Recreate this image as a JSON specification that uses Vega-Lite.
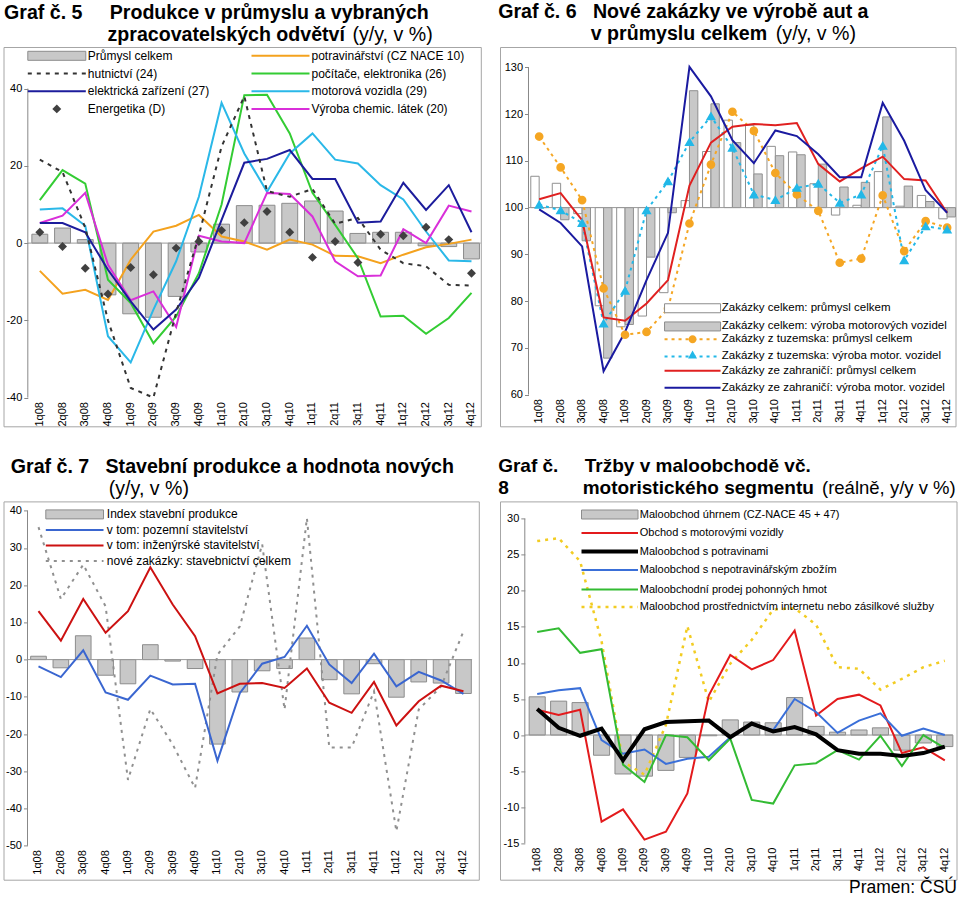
{
"$schema": "https://vega.github.io/schema/vega-lite/v6.json",
"background": "white",
"padding": {"left": 2.5, "top": 1, "right": 0, "bottom": 0},
"datasets": {
"d5": [
{"q":"1q08","prum":2.3,"pot":-7.2,"hut":21.6,"poc":11.1,"ele":5.2,"mot":8.7,"ene":2.8,"chem":5.2},
{"q":"2q08","prum":3.9,"pot":-13.1,"hut":18.4,"poc":18.9,"ele":5.2,"mot":9,"ene":-0.9,"chem":7.1},
{"q":"3q08","prum":0.9,"pot":-12.1,"hut":4,"poc":15.4,"ele":2.8,"mot":4.5,"ene":-6.5,"chem":13},
{"q":"4q08","prum":-13.4,"pot":-14.7,"hut":-20,"poc":-9.5,"ele":-6.9,"mot":-24.1,"ene":-13.2,"chem":-5.6},
{"q":"1q09","prum":-18.3,"pot":-4.3,"hut":-37.5,"poc":-15.5,"ele":-15.1,"mot":-30.9,"ene":-6.3,"chem":-14.8},
{"q":"2q09","prum":-19.2,"pot":3,"hut":-40,"poc":-25.9,"ele":-22.4,"mot":-17.2,"ene":-8.2,"chem":-12.5},
{"q":"3q09","prum":-13.8,"pot":4.5,"hut":-18,"poc":-19,"ele":-17.2,"mot":-4.7,"ene":-1.3,"chem":-21.7},
{"q":"4q09","prum":-2.3,"pot":7.3,"hut":2,"poc":-7.8,"ele":-9,"mot":12,"ene":0.4,"chem":1.9},
{"q":"1q10","prum":4.9,"pot":1.7,"hut":25,"poc":10,"ele":6,"mot":36.3,"ene":3.3,"chem":0.4},
{"q":"2q10","prum":9.7,"pot":0.4,"hut":38,"poc":38.3,"ele":20.8,"mot":23.2,"ene":5.3,"chem":0},
{"q":"3q10","prum":9.8,"pot":-1.7,"hut":13.5,"poc":38.4,"ele":21.8,"mot":13.3,"ene":8.2,"chem":13},
{"q":"4q10","prum":10.3,"pot":0.9,"hut":12,"poc":28.4,"ele":24.1,"mot":23.2,"ene":2.8,"chem":12.7},
{"q":"1q11","prum":10.9,"pot":-0.4,"hut":14,"poc":13,"ele":16.6,"mot":28.4,"ene":-3.7,"chem":6.9},
{"q":"2q11","prum":8.3,"pot":-3.3,"hut":5,"poc":4.7,"ele":16.6,"mot":21.6,"ene":0.4,"chem":-4.7},
{"q":"3q11","prum":2.5,"pot":-3.4,"hut":6.5,"poc":-3.9,"ele":5.3,"mot":20.6,"ene":-5,"chem":-8.6},
{"q":"4q11","prum":2.8,"pot":-5.2,"hut":-1.7,"poc":-19,"ele":5.6,"mot":15,"ene":2.3,"chem":-8.4},
{"q":"1q12","prum":2.8,"pot":-3,"hut":-5.2,"poc":-18.8,"ele":15.6,"mot":11.3,"ene":1.9,"chem":3.6},
{"q":"2q12","prum":-0.7,"pot":-1.1,"hut":-6,"poc":-23.5,"ele":8.6,"mot":3,"ene":4.1,"chem":0},
{"q":"3q12","prum":-0.9,"pot":-0.2,"hut":-10.8,"poc":-19.4,"ele":15,"mot":-4.5,"ene":0.9,"chem":9.7},
{"q":"4q12","prum":-4.1,"pot":0.9,"hut":-11,"poc":-12.9,"ele":2.8,"mot":-4.7,"ene":-7.8,"chem":8.2}
],
"d6": [
{"q":"1q08","wtot":106.7,"gtot":100,"dom_p":115.2,"dom_m":100.6,"for_p":101.8,"for_m":99.6},
{"q":"2q08","wtot":105.2,"gtot":97.4,"dom_p":108.6,"dom_m":99.4,"for_p":103.1,"for_m":96.7},
{"q":"3q08","wtot":98.7,"gtot":92.9,"dom_p":101.6,"dom_m":96.7,"for_p":97.3,"for_m":91.7},
{"q":"4q08","wtot":79,"gtot":67.8,"dom_p":82.7,"dom_m":75.2,"for_p":76.5,"for_m":65},
{"q":"1q09","wtot":74.5,"gtot":75,"dom_p":72.8,"dom_m":82.2,"for_p":75.8,"for_m":73.4},
{"q":"2q09","wtot":76.8,"gtot":89.4,"dom_p":73.4,"dom_m":99.4,"for_p":79.5,"for_m":84.5},
{"q":"3q09","wtot":81.8,"gtot":98.9,"dom_p":78.4,"dom_m":105.6,"for_p":84.5,"for_m":94.6},
{"q":"4q09","wtot":101.5,"gtot":125,"dom_p":96.6,"dom_m":114,"for_p":104.7,"for_m":130.1},
{"q":"1q10","wtot":112,"gtot":122.2,"dom_p":109.2,"dom_m":119.5,"for_p":113.9,"for_m":123.8},
{"q":"2q10","wtot":118.7,"gtot":113.9,"dom_p":120.5,"dom_m":112.8,"for_p":117.3,"for_m":114.4},
{"q":"3q10","wtot":117.6,"gtot":107.2,"dom_p":116.4,"dom_m":102.8,"for_p":117.9,"for_m":109.5},
{"q":"4q10","wtot":113.1,"gtot":111.1,"dom_p":107.4,"dom_m":101.6,"for_p":117.6,"for_m":116.5},
{"q":"1q11","wtot":111.9,"gtot":111.3,"dom_p":102.8,"dom_m":104.2,"for_p":118.1,"for_m":115.3},
{"q":"2q11","wtot":105.1,"gtot":109.3,"dom_p":99.3,"dom_m":105.1,"for_p":109.3,"for_m":111.4},
{"q":"3q11","wtot":98.4,"gtot":104.4,"dom_p":88.2,"dom_m":101,"for_p":105.6,"for_m":106.5},
{"q":"4q11","wtot":100.5,"gtot":105.4,"dom_p":89.1,"dom_m":102.8,"for_p":108.4,"for_m":106.5},
{"q":"1q12","wtot":107.7,"gtot":119.4,"dom_p":102.6,"dom_m":113.2,"for_p":110.9,"for_m":122.4},
{"q":"2q12","wtot":100.3,"gtot":104.6,"dom_p":90.7,"dom_m":88.7,"for_p":106.1,"for_m":114.3},
{"q":"3q12","wtot":102.6,"gtot":101.3,"dom_p":97.1,"dom_m":96,"for_p":105.8,"for_m":103.7},
{"q":"4q12","wtot":97.6,"gtot":98,"dom_p":95.7,"dom_m":95.3,"for_p":98.9,"for_m":98.9}
],
"d7": [
{"q":"1q08","idx":0.9,"poz":-1.8,"inz":13,"nz":35.6},
{"q":"2q08","idx":-2.2,"poz":-4.7,"inz":5.1,"nz":16.3},
{"q":"3q08","idx":6.4,"poz":2.5,"inz":16.3,"nz":25.5},
{"q":"4q08","idx":-4.2,"poz":-8.8,"inz":7.2,"nz":14.3},
{"q":"1q09","idx":-6.5,"poz":-10.8,"inz":13,"nz":-32.3},
{"q":"2q09","idx":4,"poz":-4.3,"inz":24.8,"nz":-13.3},
{"q":"3q09","idx":-0.4,"poz":-6.7,"inz":14.8,"nz":-22.8},
{"q":"4q09","idx":-2.4,"poz":-6.5,"inz":6.3,"nz":-34.5},
{"q":"1q10","idx":-22.7,"poz":-27.2,"inz":-9.1,"nz":1.3},
{"q":"2q10","idx":-8.7,"poz":-9,"inz":-6.5,"nz":8.9},
{"q":"3q10","idx":-3,"poz":-1.1,"inz":-6.3,"nz":31},
{"q":"4q10","idx":-2.4,"poz":0.7,"inz":-7.6,"nz":-13.4},
{"q":"1q11","idx":5.8,"poz":9.1,"inz":-2.4,"nz":38},
{"q":"2q11","idx":-5.4,"poz":-1.3,"inz":-11.6,"nz":-23.6},
{"q":"3q11","idx":-9.2,"poz":-6.3,"inz":-14.3,"nz":-23.6},
{"q":"4q11","idx":-1.1,"poz":1.6,"inz":-6,"nz":-8.5},
{"q":"1q12","idx":-10.1,"poz":-7.2,"inz":-17.7,"nz":-46.1},
{"q":"2q12","idx":-6,"poz":-3.3,"inz":-11.2,"nz":-13.4},
{"q":"3q12","idx":-6.3,"poz":-5.6,"inz":-7,"nz":-7.2},
{"q":"4q12","idx":-9.1,"poz":-9.2,"inz":-8.5,"nz":7.6}
],
"d8": [
{"q":"1q08","uhr":5.3,"mot":3.5,"pot":3.6,"nepot":5.7,"pohon":14.3,"int":26.9},
{"q":"2q08","uhr":4.7,"mot":2.8,"pot":1,"nepot":6.2,"pohon":14.8,"int":27.3},
{"q":"3q08","uhr":4.5,"mot":3.5,"pot":-0.1,"nepot":6.5,"pohon":11.4,"int":24.1},
{"q":"4q08","uhr":-2.8,"mot":-12,"pot":0.9,"nepot":-0.7,"pohon":11.9,"int":13},
{"q":"1q09","uhr":-5.4,"mot":-10.3,"pot":-3.5,"nepot":-2.6,"pohon":-4.1,"int":-3.7},
{"q":"2q09","uhr":-5.7,"mot":-14.5,"pot":0.8,"nepot":-2,"pohon":-6.5,"int":-5.5},
{"q":"3q09","uhr":-4.9,"mot":-13.4,"pot":1.8,"nepot":-4,"pohon":0,"int":1.4},
{"q":"4q09","uhr":-3.1,"mot":-8.1,"pot":1.9,"nepot":-3.3,"pohon":-0.3,"int":15.1},
{"q":"1q10","uhr":-0.1,"mot":5.5,"pot":2,"nepot":-3,"pohon":-3.5,"int":4.6},
{"q":"2q10","uhr":2.1,"mot":11.1,"pot":-0.3,"nepot":-0.3,"pohon":-0.5,"int":9.9},
{"q":"3q10","uhr":1.8,"mot":9.1,"pot":1.6,"nepot":1.5,"pohon":-9,"int":13.2},
{"q":"4q10","uhr":1.7,"mot":10.4,"pot":0.5,"nepot":0.7,"pohon":-9.5,"int":17.4},
{"q":"1q11","uhr":5.2,"mot":14.5,"pot":1.1,"nepot":5,"pohon":-4.2,"int":17.6},
{"q":"2q11","uhr":1.2,"mot":2.7,"pot":0.1,"nepot":3.2,"pohon":-3.9,"int":15.3},
{"q":"3q11","uhr":0.4,"mot":5,"pot":-2.1,"nepot":0.3,"pohon":-2.1,"int":9.4},
{"q":"4q11","uhr":0.7,"mot":5.6,"pot":-2.6,"nepot":2,"pohon":-3.4,"int":9.2},
{"q":"1q12","uhr":1,"mot":4.1,"pot":-2.6,"nepot":3,"pohon":-0.1,"int":6.3},
{"q":"2q12","uhr":-2.1,"mot":-2.5,"pot":-2.9,"nepot":-0.1,"pohon":-4.3,"int":7.8},
{"q":"3q12","uhr":-1.1,"mot":-1.7,"pot":-2.5,"nepot":0.9,"pohon":0,"int":9.4},
{"q":"4q12","uhr":-1.6,"mot":-3.5,"pot":-1.6,"nepot":0,"pohon":-1.8,"int":10.3}
]
},
"columns": 2,
"spacing": {"row": 74.4, "column": 18.5},
"bounds": "flush",
"resolve": {
 "scale": {"color": "independent", "fill": "independent", "stroke": "independent", "strokeDash": "independent", "shape": "independent", "opacity": "independent", "strokeWidth": "independent"},
 "legend": {"color": "independent", "fill": "independent", "stroke": "independent", "strokeDash": "independent", "shape": "independent", "opacity": "independent", "strokeWidth": "independent"}
},
"concat": [
{
"width": 477.3, "height": 379.3,
"title": {"text": ["Graf č. 5\u00a0\u00a0\u00a0\u00a0\u00a0Produkce v průmyslu a vybraných", "\u200b\u00a0\u00a0\u00a0\u00a0\u00a0\u00a0\u00a0\u00a0\u00a0\u00a0\u00a0\u00a0\u00a0\u00a0\u00a0\u00a0\u00a0\u00a0\u00a0zpracovatelských odvětví"], "subtitle": "\u200b\u00a0\u00a0\u00a0\u00a0\u00a0\u00a0\u00a0\u00a0\u00a0\u00a0\u00a0\u00a0\u00a0\u00a0\u00a0\u00a0\u00a0\u00a0\u00a0\u00a0\u00a0\u00a0\u00a0\u00a0\u00a0\u00a0\u00a0\u00a0\u00a0\u00a0\u00a0\u00a0\u00a0\u00a0\u00a0\u00a0\u00a0\u00a0\u00a0\u00a0\u00a0\u00a0\u00a0\u00a0\u00a0\u00a0\u00a0\u00a0\u00a0\u00a0\u00a0\u00a0\u00a0\u00a0\u00a0\u00a0\u00a0\u00a0\u00a0\u00a0\u00a0\u00a0\u00a0\u00a0(y/y, v %)", "anchor": "start", "frame": "group", "dx": 0.6, "offset": 1.7, "fontSize": 19.6, "fontWeight": "bold", "color": "#000", "lineHeight": 22, "subtitleFontSize": 19.6, "subtitleFontWeight": "normal", "subtitleColor": "#000", "subtitlePadding": -19.6},
"data": {"name": "d5"},
"layer": [
{"transform": [{"fold": ["prum"], "as": ["s", "v"]}],
 "mark": {"type": "bar", "stroke": "#8c8c8c", "strokeWidth": 1},
 "encoding": {
  "x": {"field": "q", "type": "ordinal", "scale": {"domain": ["1q08","2q08","3q08","4q08","1q09","2q09","3q09","4q09","1q10","2q10","3q10","4q10","1q11","2q11","3q11","4q11","1q12","2q12","3q12","4q12"], "paddingInner": 0.3, "paddingOuter": 0.654, "align": 0.9545}, "axis": {"title": null, "labelAngle": -90, "domain": false, "ticks": false, "labelPadding": 4, "offset": -28.7}},
  "y": {"field": "v", "type": "quantitative", "scale": {"domain": [-47.43, 50.77], "nice": false, "zero": false}, "axis": {"title": null, "values": [-40, -20, 0, 20, 40], "domain": false, "tickSize": 4, "tickColor": "#888", "labelPadding": 2, "offset": -24.3, "labelExpr": "'' + datum.value"}},
  "y2": {"datum": 0},
  "fill": {"field": "s", "type": "nominal", "scale": {"domain": ["prum"], "range": ["#c8c8c8"]},
   "legend": {"orient": "none", "legendX": 24.3, "legendY": 2.8, "title": null, "padding": 0, "columns": 1, "symbolType": "M-6,-4.5H52V4.5H-6Z", "symbolSize": 4, "symbolStrokeColor": "#8c8c8c", "symbolStrokeWidth": 1, "labelOffset": 48, "labelFontSize": 12, "labelLimit": 400, "labelColor": "#000", "labelExpr": "'Průmysl celkem'"}}
 }},
{"data": {"values": [{}]}, "mark": {"type": "rule", "color": "#999", "strokeWidth": 1}, "encoding": {"x": {"datum": "4q12", "type": "ordinal", "bandPosition": 1.08}, "x2": {"datum": "1q08"}, "y": {"datum": 0}}},
{"data": {"values": [{}]}, "mark": {"type": "rule", "color": "#999", "strokeWidth": 1}, "encoding": {"x": {"datum": "1q08", "type": "ordinal", "bandPosition": -0.2547}, "x2": {"datum": "1q08"}, "y": {"datum": 0}}},
{"data": {"values": [{}]}, "mark": {"type": "rule", "color": "#888", "strokeWidth": 1}, "encoding": {"x": {"datum": "1q08", "type": "ordinal", "bandPosition": -0.2547}, "y": {"datum": -40}, "y2": {"datum": 40}}},
{"transform": [{"fold": ["pot","poc","mot","chem"], "as": ["s", "v"]}],
 "mark": {"type": "line", "strokeWidth": 2},
 "encoding": {"x": {"field": "q", "type": "ordinal"}, "y": {"field": "v", "type": "quantitative"},
  "color": {"field": "s", "type": "nominal", "scale": {"domain": ["pot","poc","mot","chem"], "range": ["#f4a21e","#33cc33","#2ab8e8","#d92fd9"]},
   "legend": {"orient": "none", "legendX": 248, "legendY": 2.8, "title": null, "padding": 0, "columns": 1, "rowPadding": 5.7, "symbolType": "M-6,0H52", "symbolSize": 4, "symbolStrokeWidth": 2, "labelOffset": 48, "labelFontSize": 12, "labelLimit": 400, "labelColor": "#000",
    "labelExpr": "({pot:'potravinářství (CZ NACE 10)',poc:'počítače, elektronika (26)',mot:'motorová vozidla (29)',chem:'Výroba chemic. látek (20)'})[datum.value]"}}}},
{"transform": [{"fold": ["ele"], "as": ["s", "v"]}],
 "mark": {"type": "line", "strokeWidth": 2},
 "encoding": {"x": {"field": "q", "type": "ordinal"}, "y": {"field": "v", "type": "quantitative"},
  "stroke": {"field": "s", "type": "nominal", "scale": {"domain": ["ele"], "range": ["#1c1c9c"]},
   "legend": {"orient": "none", "legendX": 24.3, "legendY": 38.2, "title": null, "padding": 0, "columns": 1, "symbolType": "M-6,0H52", "symbolSize": 4, "symbolStrokeWidth": 2, "labelOffset": 48, "labelFontSize": 12, "labelLimit": 400, "labelColor": "#000", "labelExpr": "'elektrická zařízení (27)'"}}}},
{"transform": [{"fold": ["hut"], "as": ["s", "v"]}],
 "mark": {"type": "line", "strokeWidth": 2, "color": "#333333"},
 "encoding": {"x": {"field": "q", "type": "ordinal"}, "y": {"field": "v", "type": "quantitative"},
  "strokeDash": {"field": "s", "type": "nominal", "scale": {"domain": ["hut"], "range": [[4, 5]]},
   "legend": {"orient": "none", "legendX": 24.3, "legendY": 20.5, "title": null, "padding": 0, "columns": 1, "symbolType": "M-6,0H52", "symbolSize": 4, "symbolStrokeWidth": 2, "symbolStrokeColor": "#333333", "labelOffset": 48, "labelFontSize": 12, "labelLimit": 400, "labelColor": "#000", "labelExpr": "'hutnictví (24)'"}}}},
{"transform": [{"fold": ["ene"], "as": ["s", "v"]}],
 "mark": {"type": "point", "filled": true, "color": "#404040", "size": 80, "opacity": 1},
 "encoding": {"x": {"field": "q", "type": "ordinal"}, "y": {"field": "v", "type": "quantitative"},
  "shape": {"field": "s", "type": "nominal", "scale": {"domain": ["ene"], "range": ["diamond"]},
   "legend": {"orient": "none", "legendX": 24.3, "legendY": 55.9, "title": null, "padding": 0, "columns": 1, "symbolSize": 80, "symbolOffset": 23, "symbolFillColor": "#404040", "labelOffset": 25, "labelFontSize": 12, "labelLimit": 400, "labelColor": "#000", "labelExpr": "'Energetika (D)'"}}}}
]
},
{
"width": 455.5, "height": 379.3,
"title": {"text": ["Graf č. 6\u00a0\u00a0\u00a0Nové zakázky ve výrobě aut a", "\u200b\u00a0\u00a0\u00a0\u00a0\u00a0\u00a0\u00a0\u00a0\u00a0\u00a0\u00a0\u00a0\u00a0\u00a0\u00a0\u00a0\u00a0v průmyslu celkem"], "subtitle": "\u200b\u00a0\u00a0\u00a0\u00a0\u00a0\u00a0\u00a0\u00a0\u00a0\u00a0\u00a0\u00a0\u00a0\u00a0\u00a0\u00a0\u00a0\u00a0\u00a0\u00a0\u00a0\u00a0\u00a0\u00a0\u00a0\u00a0\u00a0\u00a0\u00a0\u00a0\u00a0\u00a0\u00a0\u00a0\u00a0\u00a0\u00a0\u00a0\u00a0\u00a0\u00a0\u00a0\u00a0\u00a0\u00a0\u00a0\u00a0\u00a0\u00a0\u00a0\u00a0(y/y, v %)", "anchor": "start", "frame": "group", "dx": -1.8, "offset": 2, "fontSize": 19.6, "fontWeight": "bold", "color": "#000", "lineHeight": 22, "subtitleFontSize": 19.6, "subtitleFontWeight": "normal", "subtitleColor": "#000", "subtitlePadding": -19.6},
"data": {"name": "d6"},
"layer": [
{"transform": [{"fold": ["wtot","gtot"], "as": ["s", "v"]}],
 "mark": {"type": "bar", "stroke": "#909090", "strokeWidth": 1},
 "encoding": {
  "x": {"field": "q", "type": "ordinal", "scale": {"domain": ["1q08","2q08","3q08","4q08","1q09","2q09","3q09","4q09","1q10","2q10","3q10","4q10","1q11","2q11","3q11","4q11","1q12","2q12","3q12","4q12"], "paddingInner": 0.22, "paddingOuter": 0.717, "align": 1}, "axis": {"title": null, "labelAngle": -90, "domain": false, "ticks": false, "labelPadding": 4, "offset": -31.7}},
  "xOffset": {"field": "s", "type": "nominal", "scale": {"domain": ["wtot","gtot"], "paddingInner": 0, "paddingOuter": 0}},
  "y": {"field": "v", "type": "quantitative", "scale": {"domain": [53.22, 134.35], "nice": false, "zero": false}, "axis": {"title": null, "values": [60,70,80,90,100,110,120,130], "domain": false, "tickSize": 4, "tickColor": "#888", "labelPadding": 2, "offset": -28.5}},
  "y2": {"datum": 100},
  "fill": {"field": "s", "type": "nominal", "scale": {"domain": ["wtot","gtot"], "range": ["#ffffff","#c8c8c8"]},
   "legend": {"orient": "none", "legendX": 164.8, "legendY": 255.5, "title": null, "padding": 0, "columns": 1, "rowPadding": 4.2, "symbolType": "M-6,-4.5H50V4.5H-6Z", "symbolSize": 4, "symbolStrokeColor": "#8c8c8c", "symbolStrokeWidth": 1, "labelOffset": 45.5, "labelFontSize": 11.5, "labelLimit": 400, "labelColor": "#000",
    "labelExpr": "({wtot:'Zakázky celkem: průmysl celkem',gtot:'Zakázky celkem: výroba motorových vozidel'})[datum.value]"}}
 }},
{"data": {"values": [{}]}, "mark": {"type": "rule", "color": "#999", "strokeWidth": 1}, "encoding": {"x": {"datum": "4q12", "type": "ordinal", "bandPosition": 1}, "x2": {"datum": "1q08"}, "y": {"datum": 100}}},
{"data": {"values": [{}]}, "mark": {"type": "rule", "color": "#999", "strokeWidth": 1}, "encoding": {"x": {"datum": "1q08", "type": "ordinal", "bandPosition": -0.137}, "x2": {"datum": "1q08"}, "y": {"datum": 100}}},
{"data": {"values": [{}]}, "mark": {"type": "rule", "color": "#888", "strokeWidth": 1}, "encoding": {"x": {"datum": "1q08", "type": "ordinal", "bandPosition": -0.137}, "y": {"datum": 60}, "y2": {"datum": 130}}},
{"transform": [{"fold": ["dom_p","dom_m"], "as": ["s", "v"]}],
 "mark": {"type": "line", "strokeWidth": 2, "strokeDash": [3, 4]},
 "encoding": {"x": {"field": "q", "type": "ordinal"}, "y": {"field": "v", "type": "quantitative"},
  "stroke": {"field": "s", "type": "nominal", "scale": {"domain": ["dom_p","dom_m"], "range": ["#f5a623","#22b8e8"]},
   "legend": {"orient": "none", "legendX": 164.8, "legendY": 286.5, "title": null, "padding": 0, "columns": 1, "rowPadding": 4.2, "symbolType": "M-6,0H50", "symbolSize": 4, "symbolStrokeWidth": 2, "symbolDash": [3, 4], "labelOffset": 45.5, "labelFontSize": 11.5, "labelLimit": 400, "labelColor": "#000",
    "labelExpr": "({dom_p:'Zakázky z tuzemska: průmysl celkem',dom_m:'Zakázky z tuzemska: výroba motor. vozidel'})[datum.value]"}}}},
{"transform": [{"fold": ["for_p","for_m"], "as": ["s", "v"]}],
 "mark": {"type": "line", "strokeWidth": 2},
 "encoding": {"x": {"field": "q", "type": "ordinal"}, "y": {"field": "v", "type": "quantitative"},
  "color": {"field": "s", "type": "nominal", "scale": {"domain": ["for_p","for_m"], "range": ["#e02020","#1a1aa0"]},
   "legend": {"orient": "none", "legendX": 164.8, "legendY": 317.9, "title": null, "padding": 0, "columns": 1, "rowPadding": 4.2, "symbolType": "M-6,0H50", "symbolSize": 4, "symbolStrokeWidth": 2, "labelOffset": 45.5, "labelFontSize": 11.5, "labelLimit": 400, "labelColor": "#000",
    "labelExpr": "({for_p:'Zakázky ze zahraničí: průmysl celkem',for_m:'Zakázky ze zahraničí: výroba motor. vozidel'})[datum.value]"}}}},
{"transform": [{"fold": ["dom_p"], "as": ["s", "v"]}],
 "mark": {"type": "point", "shape": "circle", "filled": true, "color": "#f5a623", "stroke": "#f5a623", "strokeWidth": 2, "size": 45},
 "encoding": {"x": {"field": "q", "type": "ordinal"}, "y": {"field": "v", "type": "quantitative"},
  "opacity": {"field": "s", "type": "ordinal", "scale": {"domain": ["dom_p"], "range": [1, 1]},
   "legend": {"orient": "none", "legendX": 164.8, "legendY": 286.5, "title": null, "padding": 0, "columns": 1, "symbolType": "M26,0A4,4,0,1,1,18,0A4,4,0,1,1,26,0", "symbolSize": 4, "symbolStrokeWidth": 1, "symbolStrokeColor": "#f5a623", "symbolFillColor": "#f5a623", "labelOffset": 45.5, "labelFontSize": 11.5, "labelLimit": 400, "labelColor": "#000", "labelExpr": "''"}}}},
{"transform": [{"fold": ["dom_m"], "as": ["s", "v"]}],
 "mark": {"type": "point", "shape": "triangle-up", "filled": true, "color": "#22b8e8", "stroke": "#22b8e8", "size": 45, "opacity": 1},
 "encoding": {"x": {"field": "q", "type": "ordinal"}, "y": {"field": "v", "type": "quantitative"},
  "strokeWidth": {"field": "s", "type": "ordinal", "scale": {"domain": ["dom_m"], "range": [2, 2]},
   "legend": {"orient": "none", "legendX": 164.8, "legendY": 302.2, "title": null, "padding": 0, "columns": 1, "symbolType": "M22,-4.5L26.5,3.5L17.5,3.5Z", "symbolSize": 4, "symbolStrokeColor": "#22b8e8", "symbolFillColor": "#22b8e8", "labelOffset": 45.5, "labelFontSize": 11.5, "labelLimit": 400, "labelColor": "#000", "labelExpr": "''"}}}}
]
},
{
"width": 475.3, "height": 378.3,
"title": {"text": "Graf č. 7\u00a0\u00a0\u00a0Stavební produkce a hodnota nových", "subtitle": "\u200b\u00a0\u00a0\u00a0\u00a0\u00a0\u00a0\u00a0\u00a0\u00a0\u00a0\u00a0\u00a0\u00a0\u00a0\u00a0\u00a0\u00a0\u00a0(y/y, v %)", "anchor": "start", "frame": "group", "dx": 7.3, "offset": 2, "fontSize": 19.6, "fontWeight": "bold", "color": "#000", "lineHeight": 22, "subtitleFontSize": 19.6, "subtitleFontWeight": "normal", "subtitleColor": "#000", "subtitlePadding": 2},
"data": {"name": "d7"},
"layer": [
{"transform": [{"fold": ["idx"], "as": ["s", "v"]}],
 "mark": {"type": "bar", "stroke": "#8c8c8c", "strokeWidth": 1},
 "encoding": {
  "x": {"field": "q", "type": "ordinal", "scale": {"domain": ["1q08","2q08","3q08","4q08","1q09","2q09","3q09","4q09","1q10","2q10","3q10","4q10","1q11","2q11","3q11","4q11","1q12","2q12","3q12","4q12"], "paddingInner": 0.3, "paddingOuter": 0.775, "align": 0.7837}, "axis": {"title": null, "labelAngle": -90, "domain": false, "ticks": false, "labelPadding": 4, "offset": -34}},
  "y": {"field": "v", "type": "quantitative", "scale": {"domain": [-59.13, 42.5], "nice": false, "zero": false}, "axis": {"title": null, "values": [-50,-40,-30,-20,-10,0,10,20,30,40], "domain": false, "tickSize": 4, "tickColor": "#888", "labelPadding": 2, "offset": -24, "labelExpr": "'' + datum.value"}},
  "y2": {"datum": 0},
  "fill": {"field": "s", "type": "nominal", "scale": {"domain": ["idx"], "range": ["#c8c8c8"]},
   "legend": {"orient": "none", "legendX": 42.3, "legendY": 7, "title": null, "padding": 0, "columns": 1, "symbolType": "M-6,-4.5H51.7V4.5H-6Z", "symbolSize": 4, "symbolStrokeColor": "#8c8c8c", "symbolStrokeWidth": 1, "labelOffset": 49, "labelFontSize": 12, "labelLimit": 400, "labelColor": "#000", "labelExpr": "'Index stavební produkce'"}}
 }},
{"data": {"values": [{}]}, "mark": {"type": "rule", "color": "#999", "strokeWidth": 1}, "encoding": {"x": {"datum": "4q12", "type": "ordinal", "bandPosition": 1.05}, "x2": {"datum": "1q08"}, "y": {"datum": 0}}},
{"data": {"values": [{}]}, "mark": {"type": "rule", "color": "#999", "strokeWidth": 1}, "encoding": {"x": {"datum": "1q08", "type": "ordinal", "bandPosition": -0.2024}, "x2": {"datum": "1q08"}, "y": {"datum": 0}}},
{"data": {"values": [{}]}, "mark": {"type": "rule", "color": "#888", "strokeWidth": 1}, "encoding": {"x": {"datum": "1q08", "type": "ordinal", "bandPosition": -0.2024}, "y": {"datum": -50}, "y2": {"datum": 40}}},
{"transform": [{"fold": ["nz"], "as": ["s", "v"]}],
 "mark": {"type": "line", "strokeWidth": 2, "color": "#909090"},
 "encoding": {"x": {"field": "q", "type": "ordinal"}, "y": {"field": "v", "type": "quantitative"},
  "strokeDash": {"field": "s", "type": "nominal", "scale": {"domain": ["nz"], "range": [[3, 5]]},
   "legend": {"orient": "none", "legendX": 42.3, "legendY": 53.5, "title": null, "padding": 0, "columns": 1, "symbolType": "M-6,0H51.7", "symbolSize": 4, "symbolStrokeWidth": 2, "symbolStrokeColor": "#909090", "labelOffset": 49, "labelFontSize": 12, "labelLimit": 400, "labelColor": "#000", "labelExpr": "'nové zakázky: stavebnictví celkem'"}}}},
{"transform": [{"fold": ["poz","inz"], "as": ["s", "v"]}],
 "mark": {"type": "line", "strokeWidth": 2},
 "encoding": {"x": {"field": "q", "type": "ordinal"}, "y": {"field": "v", "type": "quantitative"},
  "color": {"field": "s", "type": "nominal", "scale": {"domain": ["poz","inz"], "range": ["#3a66d0","#cc1111"]},
   "legend": {"orient": "none", "legendX": 42.3, "legendY": 22.5, "title": null, "padding": 0, "columns": 1, "rowPadding": 3.5, "symbolType": "M-6,0H51.7", "symbolSize": 4, "symbolStrokeWidth": 2, "labelOffset": 49, "labelFontSize": 12, "labelLimit": 400, "labelColor": "#000",
    "labelExpr": "({poz:'v tom: pozemní stavitelství',inz:'v tom: inženýrské stavitelství'})[datum.value]"}}}}
]
},
{
"width": 456.5, "height": 378.3,
"title": {"text": ["Graf č.\u00a0\u00a0\u00a0\u00a0\u00a0Tržby v maloobchodě vč.", "8\u00a0\u00a0\u00a0\u00a0\u00a0\u00a0\u00a0\u00a0\u00a0\u00a0\u00a0\u00a0\u00a0\u00a0motoristického segmentu"], "subtitle": "\u200b\u00a0\u00a0\u00a0\u00a0\u00a0\u00a0\u00a0\u00a0\u00a0\u00a0\u00a0\u00a0\u00a0\u00a0\u00a0\u00a0\u00a0\u00a0\u00a0\u00a0\u00a0\u00a0\u00a0\u00a0\u00a0\u00a0\u00a0\u00a0\u00a0\u00a0\u00a0\u00a0\u00a0\u00a0\u00a0\u00a0\u00a0\u00a0\u00a0\u00a0\u00a0\u00a0\u00a0\u00a0\u00a0\u00a0\u00a0\u00a0\u00a0\u00a0\u00a0\u00a0\u00a0\u00a0\u00a0\u00a0\u00a0\u00a0\u00a0\u00a0\u00a0\u00a0\u00a0(reálně, y/y v %)", "anchor": "start", "frame": "group", "dx": -1.8, "offset": 3.5, "fontSize": 19, "fontWeight": "bold", "color": "#000", "lineHeight": 22, "subtitleFontSize": 18.5, "subtitleFontWeight": "normal", "subtitleColor": "#000", "subtitlePadding": -19},
"data": {"name": "d8"},
"layer": [
{"transform": [{"fold": ["uhr"], "as": ["s", "v"]}],
 "mark": {"type": "bar", "stroke": "#8c8c8c", "strokeWidth": 1},
 "encoding": {
  "x": {"field": "q", "type": "ordinal", "scale": {"domain": ["1q08","2q08","3q08","4q08","1q09","2q09","3q09","4q09","1q10","2q10","3q10","4q10","1q11","2q11","3q11","4q11","1q12","2q12","3q12","4q12"], "paddingInner": 0.25, "paddingOuter": 0.7646, "align": 0.8887}, "axis": {"title": "Pramen: ČSÚ", "titleAnchor": "end", "titleAlign": "right", "titleFontSize": 17.5, "titleFontWeight": "normal", "titleColor": "#000", "titlePadding": 7, "titleFont": "Liberation Sans", "labelAngle": -90, "domain": false, "ticks": false, "labelPadding": 4, "offset": -36.5}},
  "y": {"field": "v", "type": "quantitative", "scale": {"domain": [-20.06, 32.4], "nice": false, "zero": false}, "axis": {"title": null, "values": [-15,-10,-5,0,5,10,15,20,25,30], "domain": false, "tickSize": 4, "tickColor": "#888", "labelPadding": 2, "offset": -24.8, "labelExpr": "'' + datum.value"}},
  "y2": {"datum": 0},
  "fill": {"field": "s", "type": "nominal", "scale": {"domain": ["uhr"], "range": ["#c8c8c8"]},
   "legend": {"orient": "none", "legendX": 81.5, "legendY": 7.6, "title": null, "padding": 0, "columns": 1, "symbolType": "M-5.5,-4.5H51V4.5H-5.5Z", "symbolSize": 4, "symbolStrokeColor": "#8c8c8c", "symbolStrokeWidth": 1, "labelOffset": 47.3, "labelFontSize": 11, "labelLimit": 400, "labelColor": "#000", "labelExpr": "'Maloobchod úhrnem (CZ-NACE 45 + 47)'"}}
 }},
{"data": {"values": [{}]}, "mark": {"type": "rule", "color": "#999", "strokeWidth": 1}, "encoding": {"x": {"datum": "4q12", "type": "ordinal", "bandPosition": 1}, "x2": {"datum": "1q08"}, "y": {"datum": 0}}},
{"data": {"values": [{}]}, "mark": {"type": "rule", "color": "#999", "strokeWidth": 1}, "encoding": {"x": {"datum": "1q08", "type": "ordinal", "bandPosition": -0.27}, "x2": {"datum": "1q08"}, "y": {"datum": 0}}},
{"data": {"values": [{}]}, "mark": {"type": "rule", "color": "#888", "strokeWidth": 1}, "encoding": {"x": {"datum": "1q08", "type": "ordinal", "bandPosition": -0.27}, "y": {"datum": -15}, "y2": {"datum": 30}}},
{"transform": [{"fold": ["int"], "as": ["s", "v"]}],
 "mark": {"type": "line", "strokeWidth": 2.5, "color": "#f2cc22"},
 "encoding": {"x": {"field": "q", "type": "ordinal"}, "y": {"field": "v", "type": "quantitative"},
  "strokeDash": {"field": "s", "type": "nominal", "scale": {"domain": ["int"], "range": [[3, 5]]},
   "legend": {"orient": "none", "legendX": 81.5, "legendY": 100.1, "title": null, "padding": 0, "columns": 1, "symbolType": "M-5.5,0H51", "symbolSize": 4, "symbolStrokeWidth": 2.5, "symbolStrokeColor": "#f2cc22", "labelOffset": 47.3, "labelFontSize": 11, "labelLimit": 400, "labelColor": "#000", "labelExpr": "'Maloobchod prostřednictvím internetu nebo zásilkové služby'"}}}},
{"transform": [{"fold": ["mot"], "as": ["s", "v"]}],
 "mark": {"type": "line", "strokeWidth": 2},
 "encoding": {"x": {"field": "q", "type": "ordinal"}, "y": {"field": "v", "type": "quantitative"},
  "color": {"field": "s", "type": "nominal", "scale": {"domain": ["mot"], "range": ["#e31a1c"]},
   "legend": {"orient": "none", "legendX": 81.5, "legendY": 26.1, "title": null, "padding": 0, "columns": 1, "symbolType": "M-5.5,0H51", "symbolSize": 4, "symbolStrokeWidth": 2, "labelOffset": 47.3, "labelFontSize": 11, "labelLimit": 400, "labelColor": "#000", "labelExpr": "'Obchod s motorovými vozidly'"}}}},
{"transform": [{"fold": ["nepot","pohon"], "as": ["s", "v"]}],
 "mark": {"type": "line", "strokeWidth": 2},
 "encoding": {"x": {"field": "q", "type": "ordinal"}, "y": {"field": "v", "type": "quantitative"},
  "stroke": {"field": "s", "type": "nominal", "scale": {"domain": ["nepot","pohon"], "range": ["#3a6fd8","#33bb33"]},
   "legend": {"orient": "none", "legendX": 81.5, "legendY": 63.1, "title": null, "padding": 0, "columns": 1, "rowPadding": 7.5, "symbolType": "M-5.5,0H51", "symbolSize": 4, "symbolStrokeWidth": 2, "labelOffset": 47.3, "labelFontSize": 11, "labelLimit": 400, "labelColor": "#000",
    "labelExpr": "({nepot:'Maloobchod s nepotravinářským zbožím',pohon:'Maloobchodní prodej pohonných hmot'})[datum.value]"}}}},
{"transform": [{"fold": ["pot"], "as": ["s", "v"]}],
 "mark": {"type": "line", "color": "#000000"},
 "encoding": {"x": {"field": "q", "type": "ordinal"}, "y": {"field": "v", "type": "quantitative"},
  "strokeWidth": {"field": "s", "type": "ordinal", "scale": {"domain": ["pot"], "range": [4, 4]},
   "legend": {"orient": "none", "legendX": 81.5, "legendY": 44.6, "title": null, "padding": 0, "columns": 1, "symbolType": "M-5.5,0H51", "symbolSize": 4, "symbolStrokeColor": "#000000", "labelOffset": 47.3, "labelFontSize": 11, "labelLimit": 400, "labelColor": "#000", "labelExpr": "'Maloobchod s potravinami'"}}}}
]
}
],
"config": {
 "font": "Liberation Sans",
 "view": {"stroke": "#a6a6a6", "strokeWidth": 1},
 "title": {"font": "Liberation Sans", "subtitleFont": "Liberation Sans"},
 "axis": {"labelFont": "Liberation Sans", "labelFontSize": 11, "labelColor": "#000", "grid": false},
 "legend": {"labelFont": "Liberation Sans"}
}
}
